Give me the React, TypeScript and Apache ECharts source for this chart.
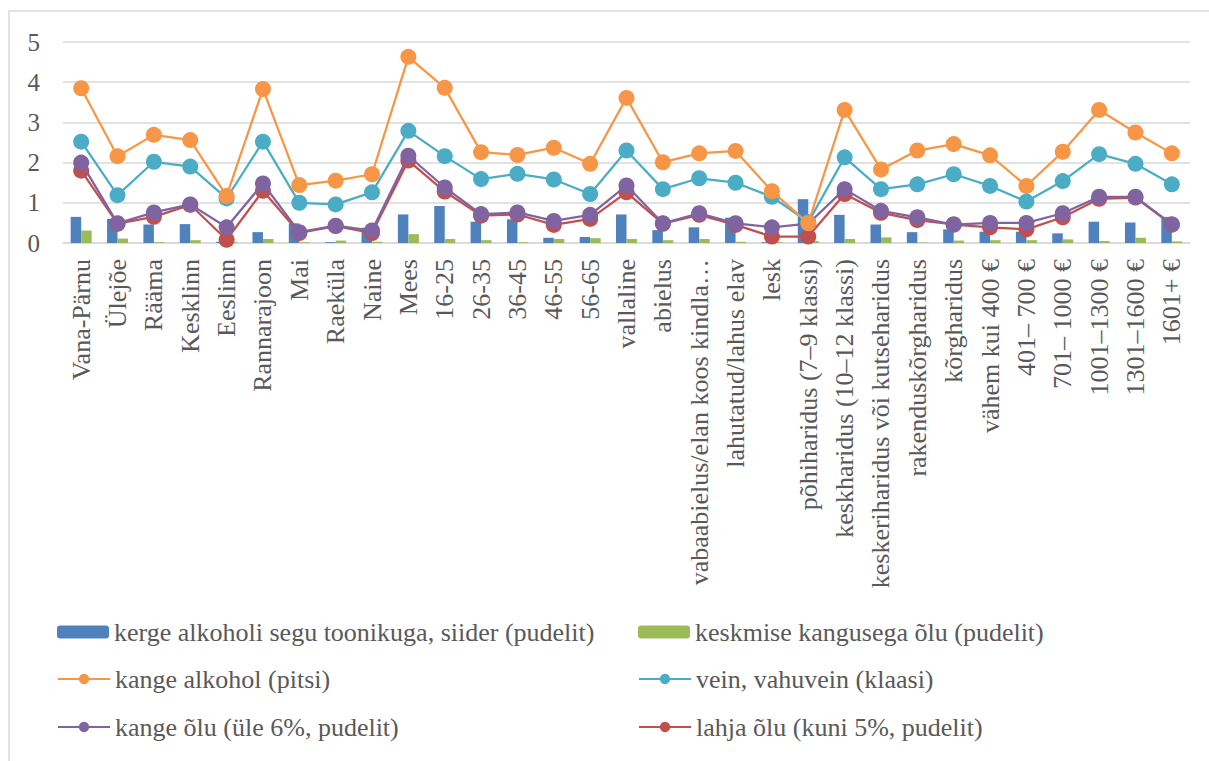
import React, { useEffect, useRef } from "react";
import * as echarts from "echarts";

const categories = [
  "Vana-Pärnu", "Ülejõe", "Rääma", "Kesklinn", "Eeslinn", "Rannarajoon", "Mai", "Raeküla",
  "Naine", "Mees", "16-25", "26-35", "36-45", "46-55", "56-65", "vallaline", "abielus",
  "vabaabielus/elan koos kindla…", "lahutatud/lahus elav", "lesk", "põhiharidus (7–9 klassi)",
  "keskharidus (10–12 klassi)", "keskeriharidus või kutseharidus", "rakenduskõrgharidus",
  "kõrgharidus", "vähem kui 400 €", "401– 700 €", "701– 1000 €", "1001–1300 €", "1301–1600 €", "1601+ €",
];

const seriesNames = [
  "kerge alkoholi segu toonikuga, siider (pudelit)",
  "keskmise kangusega õlu (pudelit)",
  "kange alkohol (pitsi)",
  "vein, vahuvein (klaasi)",
  "kange õlu (üle 6%, pudelit)",
  "lahja õlu (kuni 5%, pudelit)",
];

const kergeAlkohol = [0.65, 0.60, 0.46, 0.47, 0.03, 0.27, 0.49, 0.02, 0.38, 0.71, 0.92, 0.53, 0.59, 0.13, 0.15, 0.71, 0.32, 0.39, 0.63, 0.02, 1.09, 0.70, 0.46, 0.27, 0.34, 0.28, 0.28, 0.24, 0.53, 0.51, 0.65];
const keskmiseOlu = [0.31, 0.11, 0.02, 0.07, 0.03, 0.10, 0.02, 0.06, 0.03, 0.22, 0.10, 0.07, 0.02, 0.10, 0.12, 0.10, 0.07, 0.10, 0.03, 0.02, 0.05, 0.10, 0.14, 0.01, 0.06, 0.07, 0.07, 0.09, 0.05, 0.13, 0.04];
const kangeAlkohol = [3.85, 2.16, 2.69, 2.56, 1.17, 3.83, 1.44, 1.55, 1.71, 4.63, 3.86, 2.26, 2.19, 2.37, 1.97, 3.61, 2.01, 2.23, 2.29, 1.29, 0.49, 3.31, 1.83, 2.30, 2.46, 2.18, 1.42, 2.27, 3.31, 2.75, 2.23];
const vein = [2.52, 1.19, 2.02, 1.90, 1.11, 2.52, 1.00, 0.96, 1.26, 2.79, 2.16, 1.59, 1.72, 1.58, 1.22, 2.30, 1.34, 1.61, 1.50, 1.15, 0.52, 2.13, 1.34, 1.46, 1.71, 1.42, 1.03, 1.54, 2.21, 1.97, 1.46];
const kangeOlu = [2.00, 0.49, 0.76, 0.96, 0.39, 1.48, 0.27, 0.43, 0.31, 2.17, 1.38, 0.72, 0.76, 0.55, 0.70, 1.43, 0.49, 0.74, 0.49, 0.39, 0.48, 1.34, 0.80, 0.64, 0.46, 0.50, 0.50, 0.74, 1.15, 1.15, 0.46];
const lahjaOlu = [1.80, 0.48, 0.65, 0.95, 0.08, 1.30, 0.25, 0.42, 0.25, 2.05, 1.28, 0.68, 0.71, 0.45, 0.60, 1.26, 0.48, 0.70, 0.45, 0.16, 0.16, 1.22, 0.75, 0.57, 0.46, 0.39, 0.34, 0.64, 1.10, 1.13, 0.46];

const yTicks = [0, 1, 2, 3, 4, 5];

const colors = ["#4F81BD", "#9BBB59", "#F79646", "#4BACC6", "#8064A2", "#C0504D"];
const FONT = "Liberation Serif";
const TEXT = "#595959";

export default function App() {
  const ref = useRef<HTMLDivElement>(null);
  useEffect(() => {
    if (!ref.current) return;
    const chart = echarts.init(ref.current, null, { renderer: "svg" });
    const lineSeries = (name: string, data: number[], color: string, z: number) => ({
      name,
      type: "line",
      data,
      z,
      symbol: "circle",
      symbolSize: 16,
      lineStyle: { color, width: 2.25 },
      itemStyle: { color },
    });
    const legendPos = [
      { left: 57, top: 619 },
      { left: 638, top: 619 },
      { left: 57, top: 666 },
      { left: 638, top: 666 },
      { left: 57, top: 714 },
      { left: 638, top: 714 },
    ];
    const option: any = {
      animation: false,
      backgroundColor: "#ffffff",
      textStyle: { fontFamily: FONT },
      grid: { left: 63, right: 19, top: 42, bottom: 518, containLabel: false },
      legend: seriesNames.map((n, i) => ({
        data: [n],
        left: legendPos[i].left,
        top: legendPos[i].top,
        padding: 0,
        itemWidth: 52,
        itemHeight: 13,
        itemGap: 0,
        selectedMode: false,
        textStyle: { fontFamily: FONT, fontSize: 26, color: TEXT },
      })),
      xAxis: {
        type: "category",
        data: categories,
        axisLine: { show: true, lineStyle: { color: "#d9d9d9", width: 1.5 } },
        axisTick: { show: false },
        axisLabel: {
          interval: 0,
          rotate: 90,
          margin: 16,
          fontFamily: FONT,
          fontSize: 26,
          color: TEXT,
        },
      },
      yAxis: {
        type: "value",
        min: yTicks[0],
        max: yTicks[yTicks.length - 1],
        interval: 1,
        axisLine: { show: false },
        axisTick: { show: false },
        axisLabel: { fontFamily: FONT, fontSize: 25, color: TEXT, margin: 23 },
        splitLine: { lineStyle: { color: "#d9d9d9", width: 1.5 } },
      },
      graphic: [
        {
          type: "rect",
          shape: { x: 9, y: 11, width: 1400, height: 1000 },
          style: { fill: "none", stroke: "#d9d9d9", lineWidth: 1.5 },
          silent: true,
        },
      ],
      series: [
        { name: seriesNames[0], type: "bar", data: kergeAlkohol, barWidth: 10.5, barGap: "0%", itemStyle: { color: colors[0] }, z: 1 },
        { name: seriesNames[1], type: "bar", data: keskmiseOlu, barWidth: 10.5, barGap: "0%", itemStyle: { color: colors[1] }, z: 1 },
        lineSeries(seriesNames[5], lahjaOlu, colors[5], 2),
        lineSeries(seriesNames[4], kangeOlu, colors[4], 3),
        lineSeries(seriesNames[3], vein, colors[3], 4),
        lineSeries(seriesNames[2], kangeAlkohol, colors[2], 5),
      ],
    };
    chart.setOption(option);
    return () => chart.dispose();
  }, []);
  return (
    <div
      ref={ref}
      style={{ position: "fixed", left: 0, top: 0, width: 1209, height: 761, background: "#fff" }}
    />
  );
}
